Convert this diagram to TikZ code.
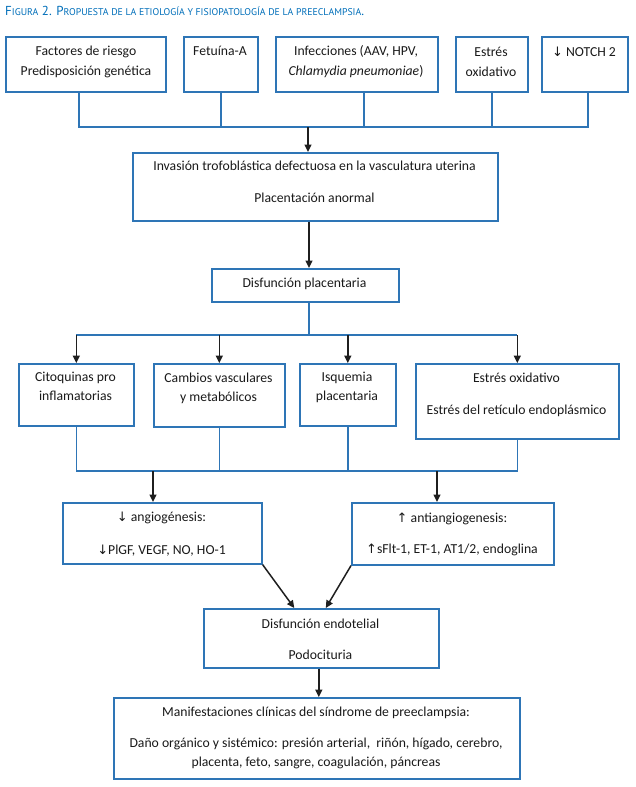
\documentclass[tikz,border=0pt]{standalone}
\usepackage{fontspec}
\setmainfont{Carlito}
\newfontfamily\arrfont{DejaVu Sans}
\newfontfamily\ttlfont{PT Sans}
\usetikzlibrary{arrows.meta}
\definecolor{boxblue}{RGB}{46,117,182}
\definecolor{ttlblue}{RGB}{0,110,185}
\newcommand\smc[1]{{\fontsize{9.8}{10}\selectfont #1}}
\newcommand\dn{{\arrfont\fontsize{13}{13}\selectfont ↓}}
\newcommand\up{{\arrfont\fontsize{13}{13}\selectfont ↑}}
\begin{document}
\begin{tikzpicture}[x=1pt,y=-1pt,
  box/.style={draw=boxblue,line width=1.6pt,inner sep=0pt,anchor=north west},
  txt/.style={inner sep=0pt,anchor=base,font=\fontsize{13.7}{19.5}\selectfont,text=black!90},
  conn/.style={draw=boxblue,line width=1.6pt},
  arrline/.style={draw=black!88,line width=1.5pt,-{Triangle[length=7.5pt,width=7pt]}}]
\useasboundingbox (0,0) rectangle (635,787);

% title
\node[anchor=base west,inner sep=0pt,text=ttlblue,font=\ttlfont\fontsize{13}{13}\selectfont] (title) at (5,15)
  {F\smc{IGURA} 2. P\smc{ROPUESTA DE LA ETIOLOGÍA Y FISIOPATOLOGÍA DE LA PREECLAMPSIA}.};

% top row
\node[box,minimum width=160pt,minimum height=55pt] (b1) at (5,36) {};
\node[box,minimum width=74pt,minimum height=55pt] (b2) at (183,36) {};
\node[box,minimum width=162pt,minimum height=55pt] (b3) at (275,36) {};
\node[box,minimum width=72pt,minimum height=55pt] (b4) at (455,36) {};
\node[box,minimum width=86pt,minimum height=55pt] (b5) at (541,36) {};
\node[txt] (t1a) at (86,55.5) {Factores de riesgo};
\node[txt] (t1b) at (86,75.5) {Predisposición genética};
\node[txt] (t2) at (220,55.5) {Fetuína-A};
\node[txt] (t3a) at (356,55.5) {Infecciones (AAV, HPV,};
\node[txt] (t3b) at (356,75.5) {\textit{Chlamydia pneumoniae})};
\node[txt] (t4a) at (491,56.5) {Estrés};
\node[txt] (t4b) at (491,76.5) {oxidativo};
\node[txt] (t5) at (584,56.5) {\dn\ NOTCH 2};

% invasion
\node[box,minimum width=365pt,minimum height=68pt] (inv) at (132,152) {};
\node[txt] (tinva) at (314.5,170.5) {Invasión trofoblástica defectuosa en la vasculatura uterina};
\node[txt] (tinvb) at (314.5,202.5) {Placentación anormal};

% placentaria
\node[box,minimum width=187pt,minimum height=33pt] (plac) at (211,268) {};
\node[txt] (tplac) at (304.5,287.5) {Disfunción placentaria};

% second row
\node[box,minimum width=115pt,minimum height=62pt] (c1) at (18,363) {};
\node[box,minimum width=131pt,minimum height=63pt] (c2) at (153,363) {};
\node[box,minimum width=96pt,minimum height=62pt] (c3) at (299,363) {};
\node[box,minimum width=203pt,minimum height=75pt] (c4) at (415,363) {};
\node[txt] (tc1a) at (75.5,381.5) {Citoquinas pro};
\node[txt] (tc1b) at (75.5,400.5) {inflamatorias};
\node[txt] (tc2a) at (218.5,382.5) {Cambios vasculares};
\node[txt] (tc2b) at (218.5,401.5) {y metabólicos};
\node[txt] (tc3a) at (347,381.5) {Isquemia};
\node[txt] (tc3b) at (347,400.5) {placentaria};
\node[txt] (tc4a) at (516.5,382.5) {Estrés oxidativo};
\node[txt] (tc4b) at (516.5,414.5) {Estrés del retículo endoplásmico};

% third row
\node[box,minimum width=199pt,minimum height=61pt] (a1) at (62,502) {};
\node[box,minimum width=202pt,minimum height=62pt] (a2) at (351,502) {};
\node[txt] (ta1a) at (161.5,521.5) {\dn\ angiogénesis:};
\node[txt] (ta1b) at (161.5,554.5) {\dn PlGF, VEGF, NO, HO-1};
\node[txt] (ta2a) at (452,522.5) {\up\ antiangiogenesis:};
\node[txt] (ta2b) at (452,553.5) {\up sFlt-1, ET-1, AT1/2, endoglina};

% endotelial
\node[box,minimum width=235pt,minimum height=59pt] (de) at (203,608) {};
\node[txt] (tdea) at (320.5,628.5) {Disfunción endotelial};
\node[txt] (tdeb) at (320.5,659.5) {Podocituria};

% manifestaciones
\node[box,minimum width=406pt,minimum height=81pt] (man) at (113,697) {};
\node[txt] (tma) at (316,716.5) {Manifestaciones clínicas del síndrome de preeclampsia:};
\node[txt] (tmb) at (316,747.5) {Daño orgánico y sistémico: presión arterial,\ \ riñón, hígado, cerebro,};
\node[txt] (tmc) at (316,766.5) {placenta, feto, sangre, coagulación, páncreas};

% connectors top
\coordinate (j1) at (308,127);
\draw[conn] ([xshift=-7pt]b1.south) |- (j1);
\draw[conn] (b2.south) |- (j1);
\draw[conn] ([xshift=7pt]b3.south) |- (j1);
\draw[conn] (b4.south) |- (j1);
\draw[conn] ([xshift=3pt]b5.south) |- (j1);
\draw[arrline] (j1) -- (j1 |- inv.north);

\coordinate (j0) at (309,0);
\draw[arrline] (j0 |- inv.south) -- (j0 |- plac.north);

% placentaria to row 2
\coordinate (j2) at (309,335);
\draw[conn] (j2 |- plac.south) -- (j2);
\draw[conn] (c1.north |- j2) -- (c4.north |- j2);
\draw[arrline] (c1.north |- j2) -- (c1.north);
\draw[arrline] (c2.north |- j2) -- (c2.north);
\draw[arrline] (c3.north |- j2) -- (c3.north);
\draw[arrline] (c4.north |- j2) -- (c4.north);

% row 2 to row 3
\coordinate (j3) at (0,471);
\draw[conn] (c1.south) -- (c1.south |- j3) -- (c4.south |- j3) -- (c4.south);
\draw[conn] (c2.south) -- (c2.south |- j3);
\draw[conn] (c3.south) -- (c3.south |- j3);
\coordinate (j3a) at (153,471);
\coordinate (j3b) at (437,471);
\draw[arrline] (j3a) -- (j3a |- a1.north);
\draw[arrline] (j3b) -- (j3b |- a2.north);

% to endotelial
\draw[arrline] (a1.south east) -- ([xshift=-27pt]de.north);
\draw[arrline] (a2.south west) -- ([xshift=4.5pt]de.north);
\draw[arrline] ([xshift=-2.5pt]de.south) -- ([xshift=-2.5pt]de.south |- man.north);
\end{tikzpicture}
\end{document}
